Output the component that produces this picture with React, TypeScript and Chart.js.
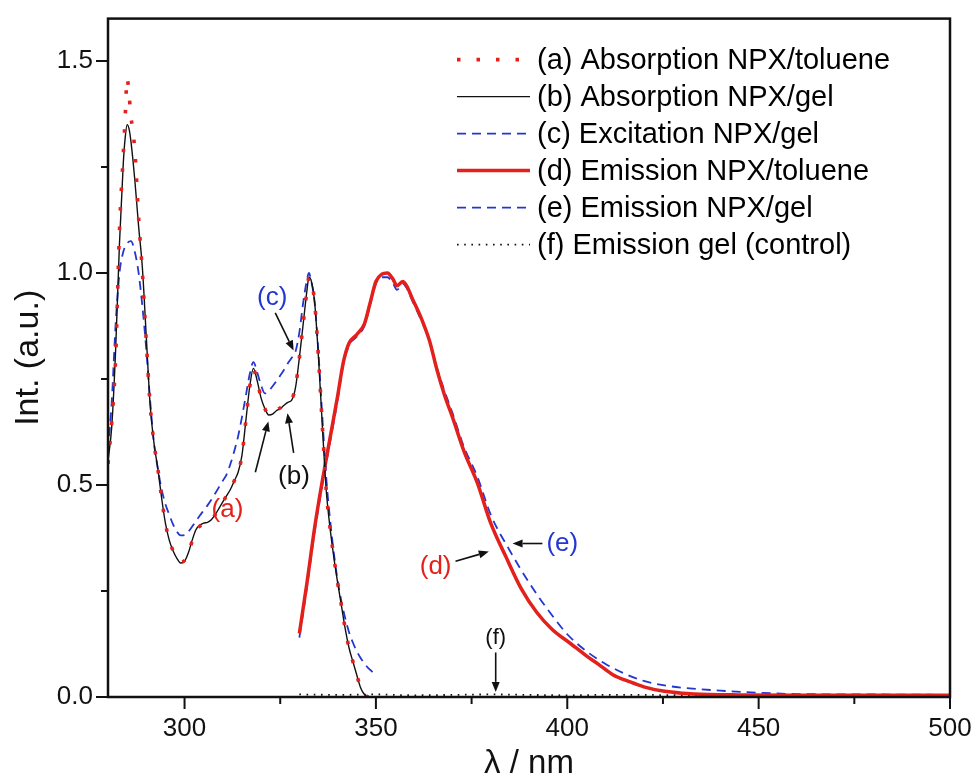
import React, { useEffect, useRef } from 'react';
import { Chart, registerables } from 'chart.js';

Chart.register(...registerables);

const RED = '#e3201b';
const BLUE = '#2436d0';
const BLACK = '#111111';
const FONT = "'Liberation Sans', Arial, Helvetica, sans-serif";

// ---- data ----
const absX = [280, 281, 282, 283, 284, 284.5, 285, 285.5, 286, 287, 288, 289, 290, 291, 292, 293, 294, 295, 296, 297, 298, 299, 300, 301, 302, 303, 304, 305, 306, 307, 308, 309, 310, 311, 312, 313, 314, 315, 316, 317, 318, 319, 320, 321, 322, 323, 324, 325, 326, 327, 328, 329, 330, 331, 332, 332.5, 333, 334, 335, 336, 337, 338, 339, 340, 341, 342, 343, 344, 345, 346, 347, 348];
const absNpxToluene = [0.55, 0.65, 0.8, 1.1, 1.28, 1.37, 1.46, 1.42, 1.37, 1.29, 1.13, 1.0, 0.84, 0.69, 0.6, 0.54, 0.47, 0.41, 0.37, 0.345, 0.328, 0.318, 0.322, 0.34, 0.368, 0.392, 0.403, 0.41, 0.412, 0.418, 0.43, 0.445, 0.46, 0.475, 0.49, 0.51, 0.53, 0.57, 0.65, 0.73, 0.772, 0.745, 0.705, 0.68, 0.665, 0.668, 0.676, 0.682, 0.69, 0.696, 0.702, 0.732, 0.8, 0.88, 0.96, 0.99, 0.985, 0.93, 0.8, 0.64, 0.49, 0.4, 0.33, 0.27, 0.215, 0.16, 0.115, 0.083, 0.052, 0.022, 0.006, 0.0];
const absNpxGel = [0.556, 0.64, 0.82, 1.07, 1.26, 1.32, 1.35, 1.34, 1.31, 1.22, 1.11, 1.01, 0.85, 0.69, 0.6, 0.54, 0.47, 0.41, 0.37, 0.345, 0.327, 0.316, 0.32, 0.34, 0.37, 0.395, 0.405, 0.41, 0.412, 0.418, 0.43, 0.445, 0.46, 0.475, 0.49, 0.51, 0.53, 0.57, 0.65, 0.73, 0.775, 0.745, 0.705, 0.68, 0.665, 0.667, 0.675, 0.68, 0.688, 0.695, 0.7, 0.73, 0.8, 0.88, 0.96, 0.99, 0.985, 0.93, 0.8, 0.64, 0.49, 0.4, 0.33, 0.27, 0.215, 0.16, 0.115, 0.083, 0.052, 0.022, 0.006, 0.0];

const excX = [280, 281, 282, 283, 284, 285, 286, 287, 288, 289, 290, 291, 292, 293, 294, 295, 296, 297, 298, 299, 300, 301, 302, 303, 304, 305, 306, 307, 308, 309, 310, 311, 312, 313, 314, 315, 316, 317, 318, 319, 320, 321, 322, 323, 324, 325, 326, 327, 328, 329, 330, 331, 332, 332.5, 333, 334, 335, 336, 337, 338, 339, 340, 341, 342, 343, 344, 345, 346, 347, 348, 349, 349.5];
const excNpxGel = [0.58, 0.7, 0.88, 1.0, 1.05, 1.07, 1.075, 1.05, 1.0, 0.92, 0.82, 0.7, 0.6, 0.54, 0.49, 0.455, 0.43, 0.407, 0.39, 0.381, 0.382, 0.39, 0.402, 0.415, 0.428, 0.44, 0.452, 0.465, 0.48, 0.495, 0.51, 0.525, 0.55, 0.58, 0.615, 0.66, 0.71, 0.76, 0.79, 0.765, 0.735, 0.716, 0.722, 0.733, 0.745, 0.758, 0.772, 0.787, 0.8, 0.815, 0.86, 0.93, 0.985, 1.0, 0.985, 0.93, 0.81, 0.66, 0.52, 0.42, 0.34, 0.275, 0.225, 0.185, 0.152, 0.128, 0.108, 0.092, 0.079, 0.068, 0.06, 0.055];

const emTolueneX = [330, 332, 334, 336, 338, 340, 341.5, 343, 345, 347, 348.5, 350, 351.5, 353, 354.5, 355.5, 357, 358, 359.5, 362, 364, 366, 368, 370, 373, 376.5, 380, 384, 388, 392, 396, 401, 405, 408, 412, 416, 420, 425, 430, 437, 445, 460, 480, 500];
const emNpxToluene = [0.15, 0.27, 0.4, 0.51, 0.61, 0.71, 0.79, 0.835, 0.855, 0.88, 0.93, 0.98, 0.997, 1.0, 0.985, 0.97, 0.98, 0.97, 0.94, 0.89, 0.84, 0.77, 0.71, 0.66, 0.58, 0.505, 0.41, 0.33, 0.255, 0.2, 0.16, 0.125, 0.097, 0.078, 0.052, 0.037, 0.024, 0.014, 0.009, 0.006, 0.005, 0.004, 0.004, 0.004];

const emGelX = [330, 332, 334, 336, 338, 340, 341.5, 343, 345, 347, 348.5, 350, 351.5, 353, 354.5, 355.5, 357, 358, 359.5, 362, 364, 366, 368, 370, 373, 376.5, 380, 385, 390, 395, 400, 405, 410, 415, 420, 425, 430, 440, 450, 460, 480, 500];
const emNpxGel = [0.14, 0.26, 0.39, 0.5, 0.6, 0.7, 0.785, 0.83, 0.85, 0.875, 0.925, 0.975, 0.99, 0.99, 0.975, 0.96, 0.975, 0.965, 0.935, 0.885, 0.84, 0.775, 0.72, 0.67, 0.59, 0.52, 0.43, 0.345, 0.27, 0.205, 0.148, 0.108, 0.078, 0.055, 0.038, 0.028, 0.022, 0.015, 0.01, 0.007, 0.006, 0.005];

const ctrlX = [330, 340, 350, 360, 370, 380, 390, 400, 410, 420, 430, 440, 450, 460, 470, 480, 490, 500];
const emGelControl = [0.006, 0.005, 0.006, 0.004, 0.005, 0.006, 0.005, 0.004, 0.005, 0.005, 0.004, 0.005, 0.004, 0.005, 0.004, 0.005, 0.004, 0.004];

const seriesLabels = [
  '(a) Absorption NPX/toluene',
  '(b) Absorption NPX/gel',
  '(c) Excitation NPX/gel',
  '(d) Emission NPX/toluene',
  '(e) Emission NPX/gel',
  '(f) Emission gel (control)',
];

const xMajorTicks = [300, 350, 400, 450, 500];
const xMinorTicks = [325, 375, 425, 475];
const yMajorTicks = [0, 0.5, 1.0, 1.5];
const yMinorTicks = [0.25, 0.75, 1.25];

const labelTexts = ['(a)', '(b)', '(c)', '(d)', '(e)', '(f)'];
const labelX = [311.2, 328.6, 322.9, 365.6, 398.7, 381.3];
const labelY = [0.441, 0.52, 0.942, 0.308, 0.362, 0.14];
const labelColors = [RED, BLACK, BLUE, RED, BLUE, BLACK];

const arrowFromX = [318.5, 328.5, 323.7, 370.8, 393.5, 381.3];
const arrowFromY = [0.53, 0.576, 0.906, 0.32, 0.362, 0.105];
const arrowToX = [321.9, 326.9, 328.5, 379.5, 385.7, 381.3];
const arrowToY = [0.65, 0.669, 0.817, 0.343, 0.362, 0.012];

const pts = (xs: number[], ys: number[]) => xs.map((x, i) => ({ x, y: ys[i] }));

const decor = {
  id: 'decor',
  afterDatasetsDraw(chart: any) {
    const { ctx, chartArea: ca, scales } = chart;
    const xs = scales.x;
    const ys = scales.y;
    ctx.save();
    ctx.setLineDash([]);
    ctx.strokeStyle = BLACK;
    ctx.lineWidth = 2;
    const seg = (x1: number, y1: number, x2: number, y2: number) => {
      ctx.beginPath();
      ctx.moveTo(x1, y1);
      ctx.lineTo(x2, y2);
      ctx.stroke();
    };
    xMajorTicks.forEach((v) => { const p = xs.getPixelForValue(v); seg(p, ca.bottom, p, ca.bottom + 12); });
    xMinorTicks.forEach((v) => { const p = xs.getPixelForValue(v); seg(p, ca.bottom, p, ca.bottom + 7); });
    yMajorTicks.forEach((v) => { const p = ys.getPixelForValue(v); seg(ca.left, p, ca.left - 12, p); });
    yMinorTicks.forEach((v) => { const p = ys.getPixelForValue(v); seg(ca.left, p, ca.left - 7, p); });
    ctx.lineWidth = 2.5;
    ctx.strokeRect(ca.left, ca.top, ca.right - ca.left, ca.bottom - ca.top);

    // arrows
    ctx.lineWidth = 1.6;
    ctx.fillStyle = BLACK;
    for (let i = 0; i < arrowFromX.length; i++) {
      const x1 = xs.getPixelForValue(arrowFromX[i]);
      const y1 = ys.getPixelForValue(arrowFromY[i]);
      const x2 = xs.getPixelForValue(arrowToX[i]);
      const y2 = ys.getPixelForValue(arrowToY[i]);
      const ang = Math.atan2(y2 - y1, x2 - x1);
      const hl = 10;
      const hw = 4;
      const bx = x2 - hl * Math.cos(ang);
      const by = y2 - hl * Math.sin(ang);
      seg(x1, y1, bx, by);
      ctx.beginPath();
      ctx.moveTo(x2, y2);
      ctx.lineTo(bx + hw * Math.sin(ang), by - hw * Math.cos(ang));
      ctx.lineTo(bx - hw * Math.sin(ang), by + hw * Math.cos(ang));
      ctx.closePath();
      ctx.fill();
    }
    // curve labels
    ctx.textAlign = 'center';
    ctx.textBaseline = 'middle';
    for (let i = 0; i < labelTexts.length; i++) {
      ctx.font = `${i === 5 ? 22 : 26}px ${FONT}`;
      ctx.fillStyle = labelColors[i];
      ctx.fillText(labelTexts[i], xs.getPixelForValue(labelX[i]), ys.getPixelForValue(labelY[i]));
    }

    // legend
    const ds = chart.data.datasets;
    ctx.textAlign = 'left';
    ctx.font = `29px ${FONT}`;
    for (let i = 0; i < ds.length; i++) {
      const rowY = ca.top + 41 + i * 37;
      const lx1 = ca.right - 493;
      const lx2 = ca.right - 420;
      ctx.save();
      ctx.strokeStyle = ds[i].borderColor;
      ctx.lineWidth = ds[i].borderWidth;
      ctx.setLineDash(ds[i].borderDash || []);
      ctx.lineCap = 'butt';
      seg(lx1, rowY, lx2, rowY);
      ctx.restore();
      ctx.fillStyle = '#000';
      ctx.fillText(ds[i].label, ca.right - 413, rowY + 1);
    }
    ctx.restore();
  },
};

export default function App() {
  const ref = useRef<HTMLCanvasElement>(null);
  useEffect(() => {
    document.body.style.margin = '0';
    const canvas = ref.current as HTMLCanvasElement;
    const common = { pointRadius: 0, fill: false, cubicInterpolationMode: 'monotone' as const };
    const chart = new Chart(canvas, {
      type: 'line',
      data: {
        datasets: [
          { ...common, label: seriesLabels[0], data: pts(absX, absNpxToluene), borderColor: RED, borderWidth: 3.6, borderDash: [3.5, 16] },
          { ...common, label: seriesLabels[1], data: pts(absX, absNpxGel), borderColor: BLACK, borderWidth: 1.4, borderDash: [] },
          { ...common, label: seriesLabels[2], data: pts(excX, excNpxGel), borderColor: BLUE, borderWidth: 1.8, borderDash: [9, 6] },
          { ...common, label: seriesLabels[3], data: pts(emTolueneX, emNpxToluene), borderColor: RED, borderWidth: 3.5, borderDash: [] },
          { ...common, label: seriesLabels[4], data: pts(emGelX, emNpxGel), borderColor: BLUE, borderWidth: 1.8, borderDash: [9, 6] },
          { ...common, label: seriesLabels[5], data: pts(ctrlX, emGelControl), borderColor: BLACK, borderWidth: 1.8, borderDash: [1.6, 5.6] },
        ],
      },
      options: {
        responsive: false,
        animation: false,
        devicePixelRatio: 1,
        layout: { padding: { left: 0, top: 13, right: 27, bottom: 0 } },
        plugins: { legend: { display: false }, tooltip: { enabled: false } },
        events: [],
        scales: {
          x: {
            type: 'linear',
            min: 280,
            max: 500,
            border: { display: false },
            grid: { display: false, drawTicks: true, tickLength: 12 },
            afterBuildTicks: (s: any) => { s.ticks = xMajorTicks.map((v) => ({ value: v })); },
            afterFit: (s: any) => { s.height = 83; },
            ticks: {
              autoSkip: false,
              maxRotation: 0,
              padding: 4,
              color: '#111',
              font: { family: FONT, size: 26 },
              callback: (v: any) => String(v),
            },
            title: {
              display: true,
              text: 'λ / nm',
              color: '#111',
              font: { family: FONT, size: 33, lineHeight: 1 },
              padding: { top: 0, bottom: 0 },
            },
          },
          y: {
            type: 'linear',
            min: 0,
            max: 1.6,
            border: { display: false },
            grid: { display: false, drawTicks: true, tickLength: 12 },
            afterBuildTicks: (s: any) => { s.ticks = yMajorTicks.map((v) => ({ value: v })); },
            afterFit: (s: any) => { s.width = 108; },
            ticks: {
              autoSkip: false,
              padding: 3,
              color: '#111',
              font: { family: FONT, size: 26 },
              callback: (v: any) => Number(v).toFixed(1),
            },
            title: {
              display: true,
              text: 'Int. (a.u.)',
              color: '#111',
              font: { family: FONT, size: 34, lineHeight: 1 },
              padding: { top: 12, bottom: 0 },
            },
          },
        },
      },
      plugins: [decor],
    });
    return () => chart.destroy();
  }, []);
  return <canvas ref={ref} width={977} height={780} style={{ display: 'block' }} />;
}
